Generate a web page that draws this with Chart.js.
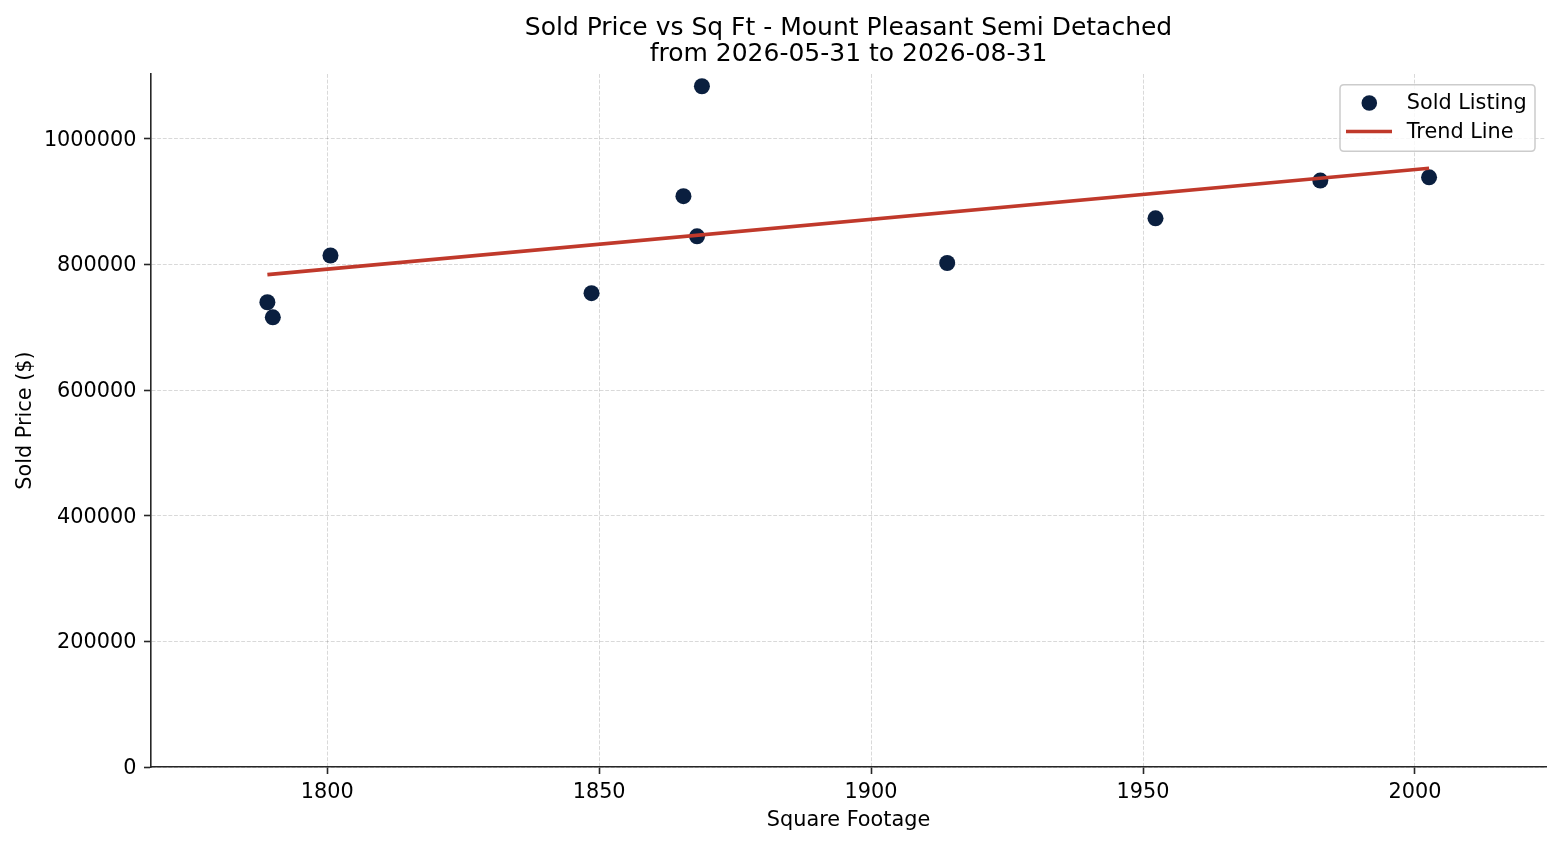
<!DOCTYPE html>
<html>
<head>
<meta charset="utf-8">
<script src="https://cdn.jsdelivr.net/npm/chart.js@4.4.1/dist/chart.umd.min.js"></script>
<style>
  html, body { margin: 0; padding: 0; background: #ffffff; }
  #wrap { width: 1560px; height: 845px; position: relative; }
</style>
</head>
<body>
<div id="wrap"><canvas id="c"></canvas></div>
<script>
// ---- data ----
const sqft  = [1789.0, 1790.0, 1800.6, 1848.6, 1865.5, 1868.0, 1868.9, 1914.0, 1952.3, 1982.6, 2002.6];
const price = [740000, 716000, 814500, 754500, 909000, 845000, 1084000, 802500, 873700, 933800, 939000];
const trendX = [1789.0, 2002.6];
const trendY = [784000, 953500];
const xTicks = [1800, 1850, 1900, 1950, 2000];
const yTicks = [0, 200000, 400000, 600000, 800000, 1000000];
const titleLines = ['Sold Price vs Sq Ft - Mount Pleasant Semi Detached', 'from 2026-05-31 to 2026-08-31'];
const xLabel = 'Square Footage';
const yLabel = 'Sold Price ($)';
const seriesNames = ['Sold Listing', 'Trend Line'];

const NAVY = '#0a1f3f';
const RED = '#c0392b';
const FONT = 'DejaVu Sans';
const FS = 20.8;

Chart.defaults.color = '#000';
Chart.defaults.font.family = FONT;

// centre the title over the plot area (as matplotlib does)
const titleOverAxes = {
  id: 'titleOverAxes',
  afterLayout(chart) {
    const tb = chart.titleBlock;
    const ca = chart.chartArea;
    if (tb && ca) {
      tb.left = ca.left;
      tb.right = ca.right;
      tb.width = ca.right - ca.left;
    }
  }
};

const legendPlugin = {
  id: 'mplLegend',
  afterDraw(chart) {
    const ctx = chart.ctx;
    const ca = chart.chartArea;
    const w = 195, h = 66.6;
    const x0 = ca.right - 206;
    const y0 = ca.top + 10.7;
    ctx.save();
    const r = 4;
    ctx.beginPath();
    ctx.moveTo(x0 + r, y0);
    ctx.lineTo(x0 + w - r, y0);
    ctx.quadraticCurveTo(x0 + w, y0, x0 + w, y0 + r);
    ctx.lineTo(x0 + w, y0 + h - r);
    ctx.quadraticCurveTo(x0 + w, y0 + h, x0 + w - r, y0 + h);
    ctx.lineTo(x0 + r, y0 + h);
    ctx.quadraticCurveTo(x0, y0 + h, x0, y0 + h - r);
    ctx.lineTo(x0, y0 + r);
    ctx.quadraticCurveTo(x0, y0, x0 + r, y0);
    ctx.closePath();
    ctx.fillStyle = 'rgba(255,255,255,0.8)';
    ctx.fill();
    ctx.strokeStyle = '#cccccc';
    ctx.lineWidth = 1.5;
    ctx.stroke();
    const row1 = y0 + 18.9, row2 = y0 + 48.2;
    ctx.beginPath();
    ctx.arc(x0 + 29.3, y0 + 18.3, 7.8, 0, Math.PI * 2);
    ctx.fillStyle = NAVY;
    ctx.fill();
    ctx.beginPath();
    ctx.moveTo(x0 + 6, y0 + 46.8);
    ctx.lineTo(x0 + 52, y0 + 46.8);
    ctx.strokeStyle = RED;
    ctx.lineWidth = 3.6;
    ctx.stroke();
    ctx.fillStyle = '#000';
    ctx.font = FS + 'px "' + FONT + '"';
    ctx.textAlign = 'left';
    ctx.textBaseline = 'middle';
    ctx.fillText(seriesNames[0], x0 + 66.7, row1);
    ctx.fillText(seriesNames[1], x0 + 66.7, row2);
    ctx.restore();
  }
};

const pts = sqft.map((x, i) => ({ x: x, y: price[i] }));
const trend = trendX.map((x, i) => ({ x: x, y: trendY[i] }));

const gridOpts = {
  color: 'rgba(0,0,0,0.15)',
  lineWidth: 1,
  tickLength: 7,
  tickColor: '#262626',
  tickWidth: 1.6,
  tickBorderDash: []
};
const borderOpts = { display: true, color: '#262626', width: 1.6, dash: [3.9, 1.7] };

new Chart(document.getElementById('c'), {
  type: 'scatter',
  data: {
    datasets: [
      {
        label: seriesNames[0],
        data: pts,
        backgroundColor: NAVY,
        borderColor: NAVY,
        borderWidth: 0,
        pointRadius: 8,
        pointHoverRadius: 8,
        order: 1
      },
      {
        type: 'line',
        label: seriesNames[1],
        data: trend,
        borderColor: RED,
        backgroundColor: RED,
        borderWidth: 3.6,
        pointRadius: 0,
        fill: false,
        order: 0
      }
    ]
  },
  options: {
    responsive: true,
    maintainAspectRatio: false,
    animation: false,
    layout: { padding: { left: 0, right: 14, top: 0, bottom: 0 } },
    plugins: {
      legend: { display: false },
      tooltip: { enabled: false },
      title: {
        display: true,
        text: titleLines,
        color: '#000',
        font: { family: FONT, size: 25, weight: 'normal', lineHeight: '26.5px' },
        padding: { top: 15.2, bottom: 5.8 }
      }
    },
    scales: {
      x: {
        type: 'linear',
        min: 1767.6,
        max: 2024.1,
        afterFit(scale) { scale.height = 78; },
        afterBuildTicks(scale) { scale.ticks = xTicks.map(v => ({ value: v })); },
        ticks: {
          font: { family: FONT, size: FS },
          color: '#000',
          padding: 6,
          maxRotation: 0,
          autoSkip: false,
          callback: v => String(v)
        },
        grid: gridOpts,
        border: borderOpts,
        title: {
          display: true,
          text: xLabel,
          color: '#000',
          font: { family: FONT, size: FS, lineHeight: 1.2 },
          padding: { top: 0, bottom: 12.4 }
        }
      },
      y: {
        type: 'linear',
        min: 0,
        max: 1103500,
        afterFit(scale) { scale.width = 151; },
        afterBuildTicks(scale) { scale.ticks = yTicks.map(v => ({ value: v })); },
        ticks: {
          font: { family: FONT, size: FS },
          color: '#000',
          padding: 7.5,
          labelOffset: 1.5,
          autoSkip: false,
          callback: v => String(v)
        },
        grid: gridOpts,
        border: borderOpts,
        title: {
          display: true,
          text: yLabel,
          color: '#000',
          font: { family: FONT, size: FS, lineHeight: 1.2 },
          padding: { top: 12.9, bottom: 0 }
        }
      }
    }
  },
  plugins: [titleOverAxes, legendPlugin]
});
</script>
</body>
</html>
